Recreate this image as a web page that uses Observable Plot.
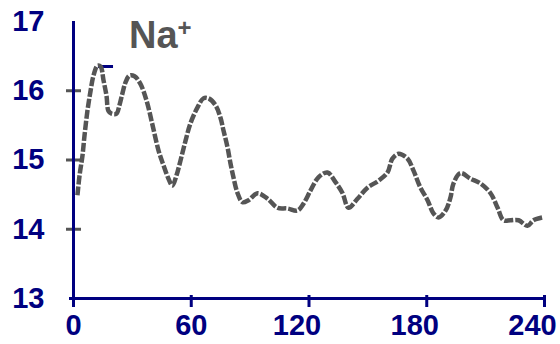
<!DOCTYPE html>
<html><head><meta charset="utf-8">
<script src="https://cdn.jsdelivr.net/npm/d3@7"></script>
<script src="https://cdn.jsdelivr.net/npm/@observablehq/plot@0.6"></script>
<style>body{margin:0;background:#fff}#chart{width:560px;height:344px}</style>
</head><body><div id="chart"></div>
<script>
const time = [2.0,3.1,4.6,5.6,7.1,8.7,10.2,12.2,13.8,15.3,16.8,17.8,19.4,21.9,23.4,25.0,26.5,28.5,31.1,34.1,37.2,40.3,43.3,45.9,48.4,50.4,52.5,54.5,57.1,59.6,63.2,66.2,68.8,72.4,74.9,76.4,78.5,80.0,81.5,83.6,86.1,89.2,93.8,98.9,103.9,109.0,114.1,117.2,120.8,124.8,129.4,133.5,137.1,140.1,144.7,149.8,155.4,160.0,162.5,165.6,170.2,173.2,176.8,180.4,183.4,186.0,189.6,192.1,193.6,197.2,202.3,207.4,212.5,216.1,219.1,222.7,226.8,231.3,234.4,239.0];
const sodium = [14.49,14.78,15.07,15.35,15.71,16.00,16.22,16.36,16.35,16.15,15.93,15.71,15.67,15.67,15.79,15.97,16.12,16.22,16.21,16.10,15.86,15.50,15.14,14.92,14.73,14.63,14.78,14.99,15.28,15.53,15.76,15.89,15.89,15.79,15.61,15.43,15.18,14.95,14.75,14.52,14.39,14.42,14.52,14.44,14.31,14.30,14.27,14.37,14.56,14.75,14.82,14.68,14.52,14.31,14.44,14.60,14.70,14.82,15.02,15.09,15.02,14.85,14.60,14.42,14.23,14.17,14.27,14.46,14.66,14.81,14.73,14.66,14.52,14.31,14.13,14.13,14.13,14.05,14.13,14.17];
const yTicks = [13,14,15,16,17];
const yInnerTicks = [14,15,16];
const xTicks = [0,60,120,180,240];
const xTicksLeft = [0,60];
const xTicksRight = [120,180,240];
const capX1 = [12.7], capX2 = [20.4], capY = [16.35];
const titleMain = "Na", titleSup = "+";

const navy = "#000080", gray = "#555555";
const data = time.map((t,i) => ({t, v: sodium[i]}));
const caps = capY.map((y,i) => ({y, x1: capX1[i], x2: capX2[i]}));
const font = {fontSize: 29, fontWeight: "bold", fontFamily: "Liberation Sans, Arial, sans-serif"};

const chart = Plot.plot({
  width: 560, height: 344,
  marginLeft: 73, marginRight: 16, marginTop: 21, marginBottom: 46,
  x: {domain: [0,240]},
  y: {domain: [13,17]},
  style: {background: "white", overflow: "visible"},
  marks: [
    Plot.axisY({ticks: yTicks, tickSize: 0, tickPadding: 29, tickFormat: "d", color: navy, ...font}),
    Plot.axisX({ticks: xTicksLeft, tickSize: 0, tickPadding: 16, tickFormat: "d", color: navy, ...font}),
    Plot.axisX({ticks: xTicksRight, tickSize: 0, tickPadding: 16, tickFormat: "d", dx: -12, color: navy, ...font}),
    Plot.ruleY(yInnerTicks, {x1: 0, x2: 0, insetLeft: -7, insetRight: -8, stroke: gray, strokeWidth: 3}),
    Plot.ruleY([13], {x1: 0, x2: 0, insetLeft: -4, insetRight: 0, stroke: navy, strokeWidth: 3}),
    Plot.ruleX(xTicks, {y1: 13, y2: 13, insetTop: -3, insetBottom: -9, stroke: navy, strokeWidth: 3}),
    Plot.ruleX([0], {stroke: navy, strokeWidth: 3}),
    Plot.ruleY([13], {stroke: navy, strokeWidth: 3}),
    Plot.ruleY(caps, {y: "y", x1: "x1", x2: "x2", stroke: navy, strokeWidth: 3}),
    Plot.line(data, {x: "t", y: "v", stroke: gray, strokeWidth: 4.5, strokeDasharray: "9,2", strokeLinecap: "butt", curve: "catmull-rom"})
  ]
});
document.getElementById("chart").appendChild(chart);
const svg = d3.select(chart);
const tt = svg.append("text").attr("x", 129).attr("y", 48).attr("text-anchor", "start")
  .attr("fill", gray).attr("font-family", "Liberation Sans, Arial, sans-serif").attr("font-weight", "bold").attr("font-size", 38);
tt.append("tspan").text(titleMain);
tt.append("tspan").attr("font-size", 24).attr("dy", -12).text(titleSup);
</script>
</body></html>
